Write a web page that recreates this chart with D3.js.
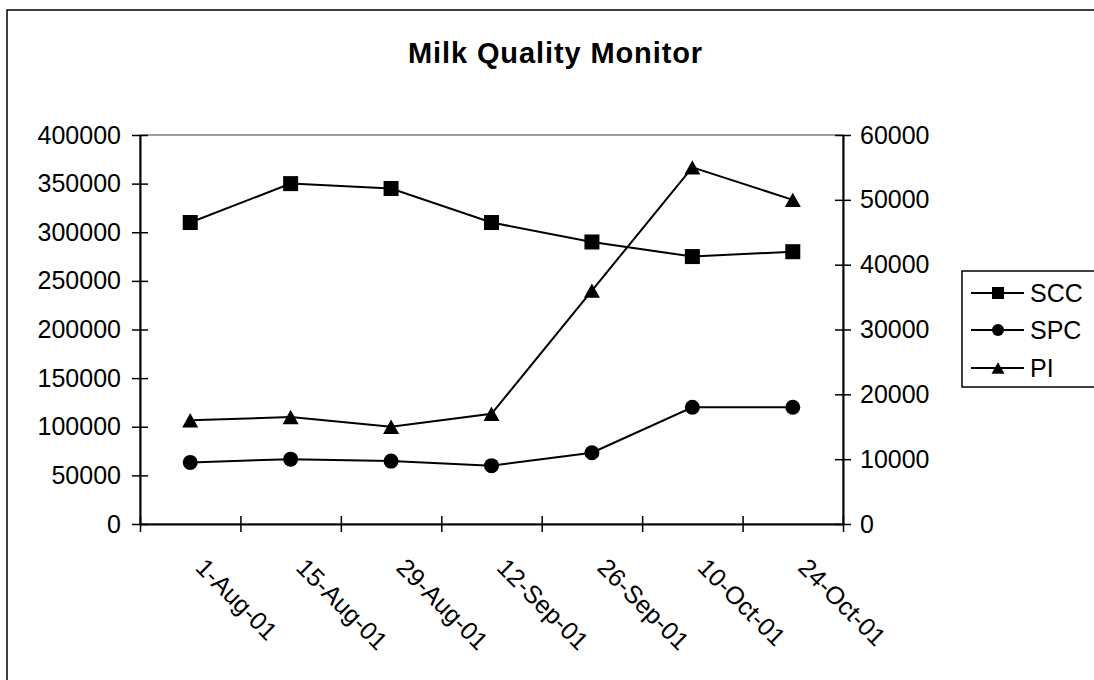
<!DOCTYPE html>
<html>
<head>
<meta charset="utf-8">
<script src="https://cdn.jsdelivr.net/npm/d3@7"></script>
<style>
  html, body { margin: 0; padding: 0; background: #fff; }
  svg { display: block; }
  text { font-family: "Liberation Sans", Arial, sans-serif; fill: #000; }
</style>
</head>
<body>
<svg id="chart" width="1094" height="680"></svg>
<script>
// ---- data ----
const categories = ["1-Aug-01", "15-Aug-01", "29-Aug-01", "12-Sep-01", "26-Sep-01", "10-Oct-01", "24-Oct-01"];
const sccValues = [310000, 350000, 345000, 310000, 290000, 275000, 280000];   // primary axis
const spcValues = [9500, 10000, 9700, 9000, 11000, 18000, 18000];             // secondary axis
const piValues  = [16000, 16500, 15000, 17000, 36000, 55000, 50000];          // secondary axis
const leftTicks  = [0, 50000, 100000, 150000, 200000, 250000, 300000, 350000, 400000];
const rightTicks = [0, 10000, 20000, 30000, 40000, 50000, 60000];
const seriesNames = ["SCC", "SPC", "PI"];
const titleText = "Milk Quality Monitor";

// ---- layout ----
const svg = d3.select("#chart");
const plot = { left: 140, right: 843, top: 135, bottom: 524 };
const FONT = 25;

// outer chart border
svg.append("rect").attr("x", 7).attr("y", 10).attr("width", 1200).attr("height", 800)
  .attr("fill", "#fff").attr("stroke", "#000").attr("stroke-width", 1.5);

// title
svg.append("text").attr("x", 555.5).attr("y", 63).attr("text-anchor", "middle")
  .style("font-size", "29px").style("font-weight", "bold").style("letter-spacing", "0.9px")
  .text(titleText);

// scales
const x = d3.scaleBand().domain(categories).range([plot.left, plot.right]).padding(0);
const xIdx = d3.scaleLinear().domain([0, categories.length]).range([plot.left, plot.right]);
const yL = d3.scaleLinear().domain([0, 400000]).range([plot.bottom, plot.top]);
const yR = d3.scaleLinear().domain([0, 60000]).range([plot.bottom, plot.top]);
const cx = d => x(d) + x.bandwidth() / 2;

// plot area border (gray)
svg.append("rect").attr("x", plot.left).attr("y", plot.top)
  .attr("width", plot.right - plot.left).attr("height", plot.bottom - plot.top)
  .attr("fill", "none").attr("stroke", "#808080").attr("stroke-width", 1.5);

function styleAxis(g) {
  g.selectAll(".tick line").attr("stroke", "#000").attr("stroke-width", 1.5);
  g.select(".domain").attr("stroke", "#000").attr("stroke-width", 2);
}

// left axis
const gL = svg.append("g").attr("transform", `translate(${plot.left},0)`)
  .call(d3.axisLeft(yL).tickValues(leftTicks).tickFormat(d3.format("d"))
    .tickSizeInner(8).tickSizeOuter(0).tickPadding(11));
gL.selectAll(".tick line").attr("x1", 8);
styleAxis(gL);
gL.selectAll(".tick text").style("font-size", FONT + "px").style("font-family", "'Liberation Sans', Arial, sans-serif");

// right axis
const gR = svg.append("g").attr("transform", `translate(${plot.right},0)`)
  .call(d3.axisRight(yR).tickValues(rightTicks).tickFormat(d3.format("d"))
    .tickSizeInner(8).tickSizeOuter(0).tickPadding(9));
gR.selectAll(".tick line").attr("x1", -8);
styleAxis(gR);
gR.selectAll(".tick text").style("font-size", FONT + "px").style("font-family", "'Liberation Sans', Arial, sans-serif");

// bottom axis: ticks at category boundaries
const gB = svg.append("g").attr("transform", `translate(0,${plot.bottom})`)
  .call(d3.axisBottom(xIdx).tickValues(d3.range(categories.length + 1)).tickFormat(() => "")
    .tickSizeInner(8).tickSizeOuter(0));
gB.selectAll(".tick line").attr("y1", -8);
styleAxis(gB);

// bottom axis labels (category centres), rotated 45deg
const gBL = svg.append("g").attr("transform", `translate(0,${plot.bottom})`)
  .call(d3.axisBottom(x).tickSize(0).tickPadding(0));
gBL.select(".domain").remove();
gBL.selectAll(".tick text")
  .attr("text-anchor", "start").attr("dy", null).attr("y", 0)
  .attr("transform", "translate(4,45) rotate(45)")
  .style("font-size", FONT + "px").style("font-family", "'Liberation Sans', Arial, sans-serif");

// series
const series = [
  { name: seriesNames[0], values: sccValues, y: yL, marker: "square" },
  { name: seriesNames[1], values: spcValues, y: yR, marker: "circle" },
  { name: seriesNames[2], values: piValues,  y: yR, marker: "triangle" }
];

function drawMarker(g, type, px, py, s) {
  if (type === "square") {
    g.append("rect").attr("x", px - s / 2).attr("y", py - s / 2).attr("width", s).attr("height", s).attr("fill", "#000");
  } else if (type === "circle") {
    g.append("circle").attr("cx", px).attr("cy", py).attr("r", s / 2).attr("fill", "#000");
  } else {
    const h = s * 0.9;
    g.append("path").attr("d", `M${px},${py - h / 2} L${px + s / 2},${py + h / 2} L${px - s / 2},${py + h / 2} Z`).attr("fill", "#000");
  }
}

series.forEach(s => {
  const line = d3.line().x((d, i) => cx(categories[i])).y(d => s.y(d));
  svg.append("path").datum(s.values).attr("d", line)
    .attr("fill", "none").attr("stroke", "#000").attr("stroke-width", 2);
  const gm = svg.append("g");
  s.values.forEach((v, i) => drawMarker(gm, s.marker, cx(categories[i]), s.y(v), s.marker === "triangle" ? 16 : 15));
});

// legend
const lg = svg.append("g");
lg.append("rect").attr("x", 962).attr("y", 271).attr("width", 200).attr("height", 116)
  .attr("fill", "#fff").attr("stroke", "#000").attr("stroke-width", 1.5);
const legendY = [293, 330, 368];
series.forEach((s, i) => {
  const yy = legendY[i];
  lg.append("line").attr("x1", 971).attr("x2", 1024).attr("y1", yy).attr("y2", yy)
    .attr("stroke", "#000").attr("stroke-width", 2);
  drawMarker(lg, s.marker, 998, yy, s.marker === "triangle" ? 13 : 12);
  lg.append("text").attr("x", 1030).attr("y", yy).attr("dy", "0.36em")
    .style("font-size", FONT + "px").text(s.name);
});
</script>
</body>
</html>
